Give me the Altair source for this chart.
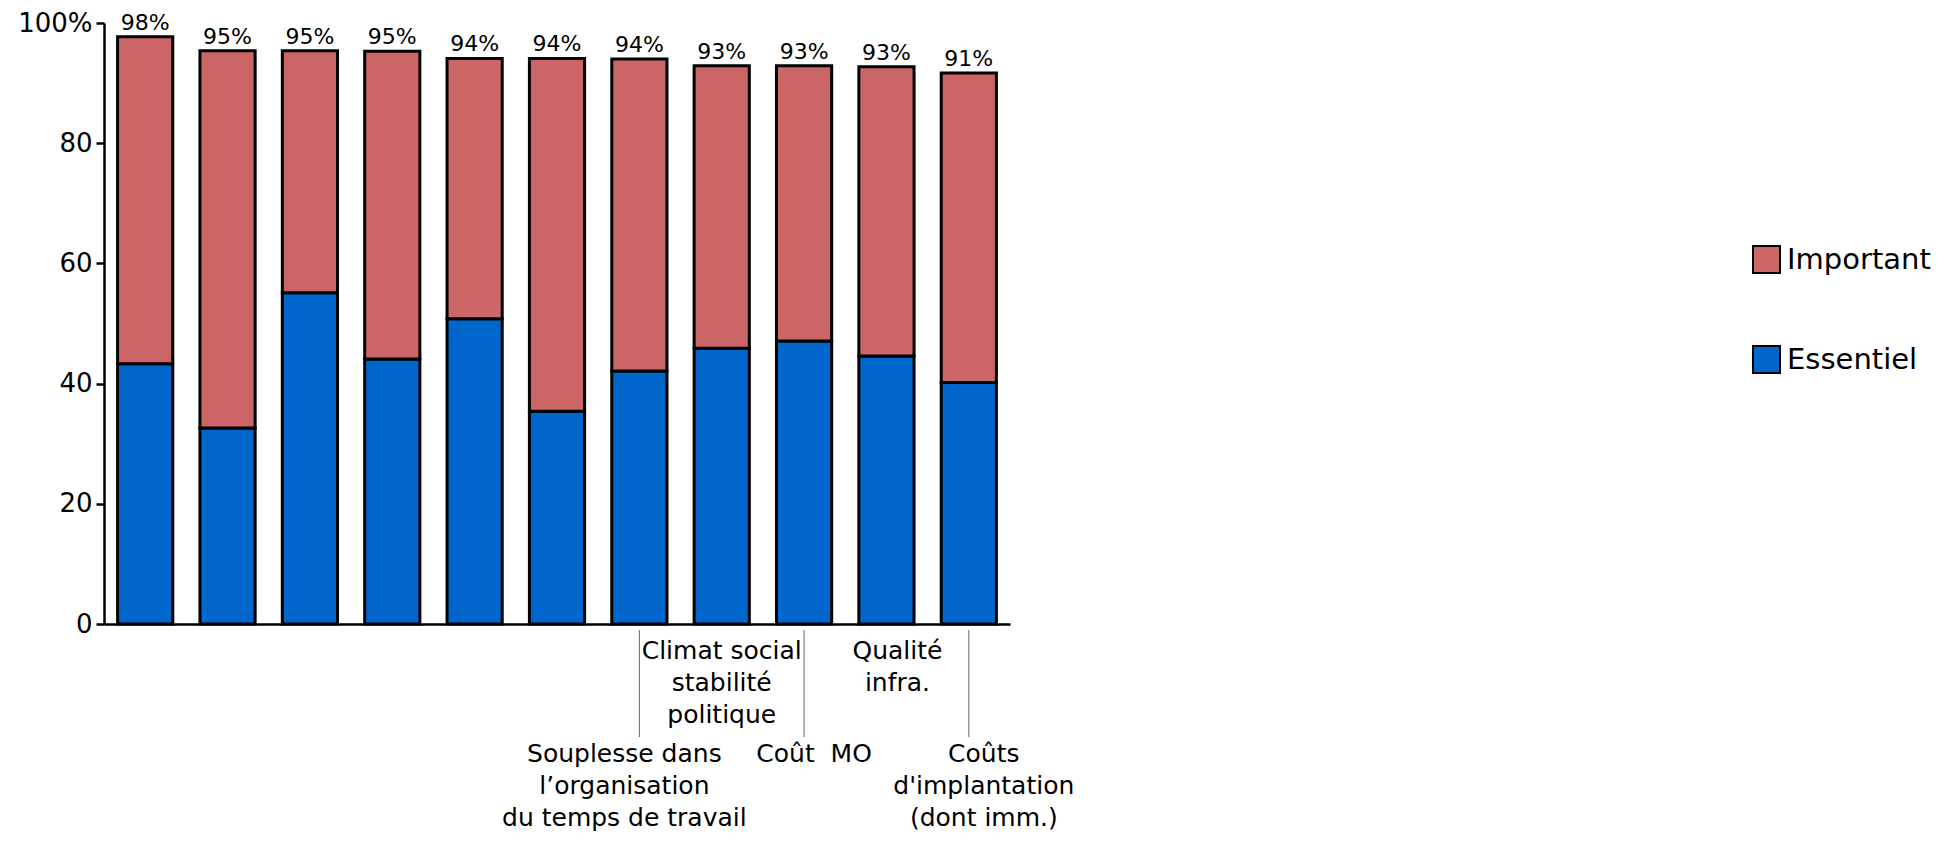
import altair as alt
import pandas as pd

# ---- data ----
factors = ["F1", "F2", "F3", "F4", "F5", "F6", "F7", "F8", "F9", "F10", "F11"]
essentiel = [43.3, 32.6, 55.1, 44.1, 50.8, 35.4, 42.1, 45.9, 47.1, 44.6, 40.2]
total = [97.7, 95.4, 95.4, 95.3, 94.1, 94.1, 94.0, 92.9, 92.9, 92.7, 91.7]
total_labels = ["98%", "95%", "95%", "95%", "94%", "94%", "94%", "93%", "93%", "93%", "91%"]
axis_labels = ["", "", "", "", "", "",
               "Souplesse dans\nl’organisation\ndu temps de travail",
               "Climat social\nstabilité\npolitique",
               "Coût \u00a0MO",
               "Qualité\ninfra.",
               "Coûts\nd'implantation\n(dont imm.)"]
label_row = ["", "", "", "", "", "", "low", "high", "low", "high", "low"]
series = ["Important", "Essentiel"]
colors = ["#CC6666", "#0066CC"]

# style: horizontal nudges of the hand-placed category labels (pixels)
label_dx = {"F7": -15, "F8": 0, "F9": 10, "F10": 11, "F11": 15}

FONT = "DejaVu Sans"

rows = []
for f, e, t in zip(factors, essentiel, total):
    rows.append({"factor": f, "series": "Essentiel", "value": e, "ord": 0})
    rows.append({"factor": f, "series": "Important", "value": round(t - e, 2), "ord": 1})
df = pd.DataFrame(rows)
df_tot = pd.DataFrame({"factor": factors, "total": total, "label": total_labels})
df_lab = pd.DataFrame({"factor": factors, "text": axis_labels, "row": label_row})

xscale = alt.Scale(domain=factors, paddingInner=0.33, paddingOuter=0.165)

bars = alt.Chart(df).mark_bar(stroke="black", strokeWidth=3).encode(
    x=alt.X("factor:N", scale=xscale, sort=factors,
            axis=alt.Axis(labels=False, ticks=False, title=None, domainColor="black",
                          domainWidth=2.5, grid=False)),
    y=alt.Y("value:Q", stack="zero", scale=alt.Scale(domain=[0, 100], nice=False),
            axis=alt.Axis(values=[0, 20, 40, 60, 80, 100], title=None, grid=False,
                          labelExpr="datum.value == 100 ? '100%' : datum.label",
                          tickSize=8, tickWidth=2.5, tickColor="black",
                          domainColor="black", domainWidth=2.5,
                          labelFont=FONT, labelFontSize=26, labelColor="black",
                          labelPadding=4)),
    color=alt.Color("series:N", scale=alt.Scale(domain=series, range=colors),
                    legend=alt.Legend(orient="none", legendX=1648, legendY=222, title=None,
                                      symbolType="square", symbolSize=729,
                                      symbolStrokeColor="black", symbolStrokeWidth=2,
                                      symbolOpacity=1,
                                      labelFont=FONT, labelFontSize=29, labelColor="black",
                                      rowPadding=65, labelOffset=6, padding=0)),
    order=alt.Order("ord:Q"),
)

tot_text = alt.Chart(df_tot).mark_text(
    baseline="bottom", dy=-2, font=FONT, fontSize=22, color="black"
).encode(
    x=alt.X("factor:N", sort=factors),
    y=alt.Y("total:Q"),
    text="label:N",
)

layers = [bars, tot_text]

leaders = alt.Chart(df_lab).transform_filter("datum.row == 'low'").mark_rule(
    color="#666666", strokeWidth=1
).encode(
    x=alt.X("factor:N", sort=factors),
    y=alt.value(607),
    y2=alt.value(714),
)
layers.append(leaders)

for f, row in zip(factors, label_row):
    if not row:
        continue
    ytop = 616 if row == "high" else 719
    layers.append(
        alt.Chart(df_lab).transform_filter(alt.datum.factor == f).mark_text(
            baseline="top", lineBreak="\n", lineHeight=32, font=FONT, fontSize=25,
            color="black", dx=label_dx[f]
        ).encode(
            x=alt.X("factor:N", sort=factors),
            y=alt.value(ytop),
            text="text:N",
        )
    )

chart = alt.layer(*layers).properties(
    width=906, height=601,
    background="white",
    autosize=alt.AutoSizeParams(type="none"),
    padding={"left": 96, "top": 15, "right": 930, "bottom": 210},
).configure_view(stroke=None)

chart.save("out.html", embed_options={"renderer": "svg", "actions": False})
